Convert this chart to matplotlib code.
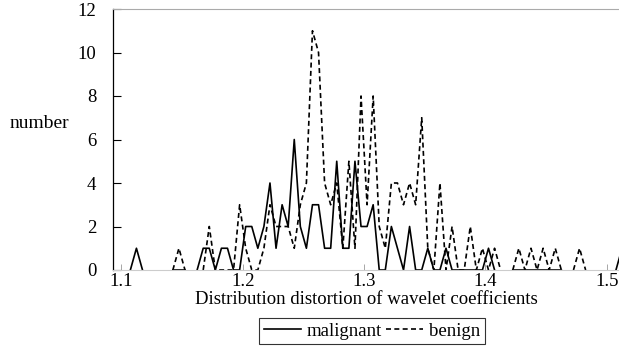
import numpy as np
import matplotlib
matplotlib.use("Agg")
import matplotlib.pyplot as plt

nan = np.nan

# counts per bin (bin width 0.005), nan where the curve is not drawn
malignant = [0, 1, 0, nan, nan, nan, nan, 0, 0, 0,
             nan, 0, 1, 1, 0, 1, 1, 0, 0, 2,
             2, 1, 2, 4, 1, 3, 2, 6, 2, 1,
             3, 3, 1, 1, 5, 1, 1, 5, 2, 2,
             3, 0, 0, 2, 1, 0, 2, 0, 0, 1,
             0, 0, 1, 0, 0, 0, 0, 0, 0, 1,
             0, nan, nan, 0, 0, 0, 0, 0, 0, 0,
             0, 0, nan, nan, nan, nan, nan, nan, nan, nan,
             0, 1]
benign = [nan, nan, nan, nan, nan, nan, nan, 0, 1, 0,
          nan, nan, 0, 2, 0, 0, 0, 0, 3, 1,
          0, 0, 1, 3, 2, 2, 2, 1, 3, 4,
          11, 10, 4, 3, 4, 1, 5, 1, 8, 3,
          8, 2, 1, 4, 4, 3, 4, 3, 7, 1,
          0, 4, 0, 2, 0, 0, 2, 0, 1, 0,
          1, 0, nan, 0, 1, 0, 1, 0, 1, 0,
          1, 0, nan, 0, 1, 0, nan, nan, nan, nan,
          nan, nan]
bins = np.round(1.1075 + 0.005 * np.arange(len(malignant)), 4)

xticks = [1.1, 1.2, 1.3, 1.4, 1.5]
yticks = [0, 2, 4, 6, 8, 10, 12]

plt.rcParams['font.family'] = ['Liberation Serif', 'DejaVu Serif']

fig = plt.figure(figsize=(6.19, 3.51), dpi=100)
ax = fig.add_axes([113/619, 1 - 270/351, 506/619, 261/351])

ax.plot(bins, malignant, color='black', lw=1.2, label='malignant')
ax.plot(bins, benign, color='black', lw=1.2, ls=(0, (3, 2)), label='benign')

ax.set_xlim(1.0932, 1.51)
ax.set_ylim(0, 12)
ax.set_xticks(xticks)
ax.set_xticklabels([str(t) for t in xticks])
ax.set_yticks(yticks)
ax.tick_params(axis='both', direction='in', labelsize=13.5, colors='black')
ax.tick_params(axis='y', length=6, width=0.8, pad=12)
ax.tick_params(axis='x', length=4, width=0.6, pad=2, color='#999999')

ax.spines['right'].set_visible(False)
ax.spines['top'].set_color('#aaaaaa')
ax.spines['top'].set_linewidth(0.8)
ax.spines['bottom'].set_color('#cccccc')
ax.spines['bottom'].set_linewidth(0.8)
ax.spines['left'].set_linewidth(0.9)

ax.set_xlabel('Distribution distortion of wavelet coefficients', fontsize=13.5, labelpad=1)
fig.text(10/619, 1 - 123/351, 'number', fontsize=14, ha='left', va='center')

leg = fig.legend(loc='center', bbox_to_anchor=(372/619, 1 - 331/351), ncol=2,
                 fontsize=13.5, frameon=True, fancybox=False, handlelength=2.0,
                 handletextpad=0.3, columnspacing=0.2, borderpad=0.25,
                 borderaxespad=0)
leg.get_frame().set_edgecolor('black')
leg.get_frame().set_linewidth(0.8)

fig.savefig('out.png', dpi=100)
